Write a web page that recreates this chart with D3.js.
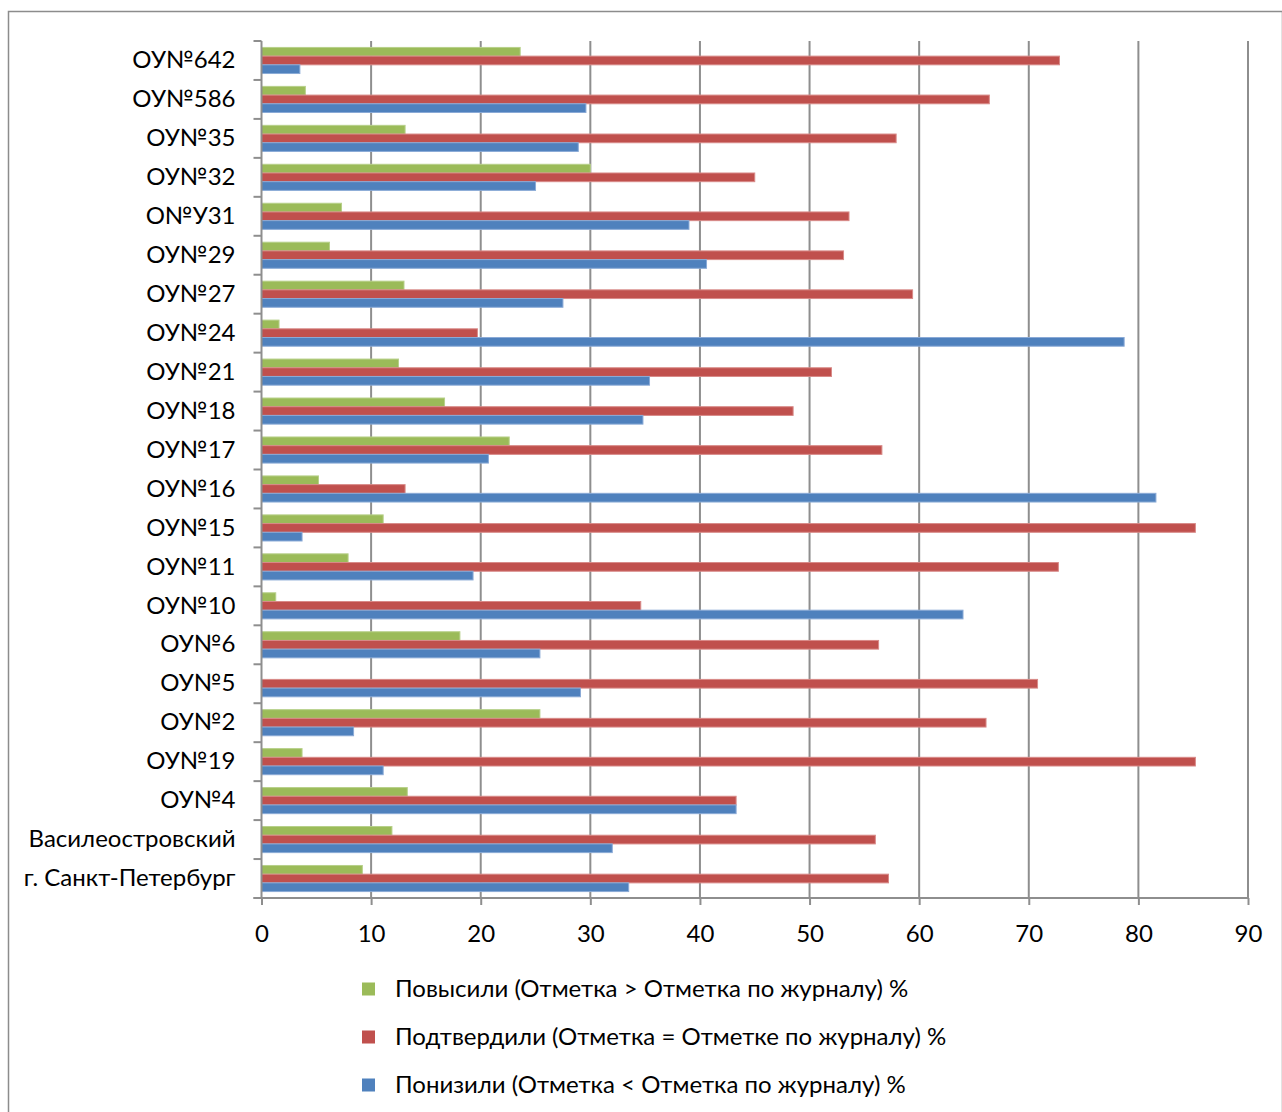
<!DOCTYPE html>
<html><head><meta charset="utf-8">
<script src="https://cdn.jsdelivr.net/npm/d3@7"></script>
<style>body{margin:0;background:#fff;} svg{display:block;}</style>
</head><body>
<script>
const categories = ["ОУ№642","ОУ№586","ОУ№35","ОУ№32","О№У31","ОУ№29","ОУ№27","ОУ№24","ОУ№21","ОУ№18","ОУ№17","ОУ№16","ОУ№15","ОУ№11","ОУ№10","ОУ№6","ОУ№5","ОУ№2","ОУ№19","ОУ№4","Василеостровский","г. Санкт-Петербург"];
const raised    = [23.6, 4.0, 13.1, 30.0, 7.3, 6.2, 13.0, 1.6, 12.5, 16.7, 22.6, 5.2, 11.1, 7.9, 1.3, 18.1, 0, 25.4, 3.7, 13.3, 11.9, 9.2];
const confirmed = [72.8, 66.4, 57.9, 45.0, 53.6, 53.1, 59.4, 19.7, 52.0, 48.5, 56.6, 13.1, 85.2, 72.7, 34.6, 56.3, 70.8, 66.1, 85.2, 43.3, 56.0, 57.2];
const lowered   = [3.5, 29.6, 28.9, 25.0, 39.0, 40.6, 27.5, 78.7, 35.4, 34.8, 20.7, 81.6, 3.7, 19.3, 64.0, 25.4, 29.1, 8.4, 11.1, 43.3, 32.0, 33.5];
const seriesNames = ["Повысили (Отметка > Отметка по журналу) %","Подтвердили (Отметка = Отметке по журналу) %","Понизили (Отметка < Отметка по журналу) %"];
const seriesColors = ["#9BBB59","#C0504D","#4F81BD"];
const seriesStroke = ["#B7D08A","#D88A88","#8AAAD6"];
const xTicks = [0,10,20,30,40,50,60,70,80,90];

const W=1282,H=1112;
const svg=d3.select("body").append("svg").attr("width",W).attr("height",H);
svg.append("rect").attr("x",8.5).attr("y",11.5).attr("width",W-8).attr("height",H).attr("fill","#fff").attr("stroke","#8c8c8c").attr("stroke-width",1.5);

const pL=261.5,pR=1248,pT=41,pB=898;
const x=d3.scaleLinear().domain([0,90]).range([pL,pR]);
const y=d3.scaleBand().domain(categories).range([pT,pB]).paddingInner(0.33).paddingOuter(0.165);
const ySub=d3.scaleBand().domain([0,1,2]).range([0,y.bandwidth()]);
const font="Lato, 'Open Sans', sans-serif";
const fs=24;

// gridlines
svg.append("g").selectAll("line").data(xTicks.slice(1)).join("line")
  .attr("x1",d=>x(d)).attr("x2",d=>x(d)).attr("y1",pT).attr("y2",pB)
  .attr("stroke","#8e8e8e").attr("stroke-width",2);

const data=[raised,confirmed,lowered];
const g=svg.append("g");
data.forEach((arr,si)=>{
  g.append("g").selectAll("rect").data(arr).join("rect")
   .attr("x",x(0)).attr("y",(d,i)=>y(categories[i])+ySub(si))
   .attr("width",d=>Math.max(0,x(d)-x(0))).attr("height",ySub.bandwidth())
   .attr("fill",seriesColors[si]).attr("stroke",d=>d>0?seriesStroke[si]:"none").attr("stroke-width",1);
});

// axes
const xAxis=d3.axisBottom(x).tickValues(xTicks).tickSize(7).tickPadding(20);
const ax=svg.append("g").attr("transform",`translate(0,${pB})`).call(xAxis);
ax.select(".domain").attr("stroke","#8e8e8e").attr("stroke-width",2).attr("d",`M${pL-8},0H${pR}`);
ax.selectAll(".tick line").attr("stroke","#8e8e8e").attr("stroke-width",2);
ax.selectAll("text").attr("font-family",font).attr("font-size",fs).attr("fill","#000");

const yAxis=d3.axisLeft(y).tickSize(0).tickPadding(26);
const ay=svg.append("g").attr("transform",`translate(${pL},0)`).call(yAxis);
ay.select(".domain").attr("stroke","#8e8e8e").attr("stroke-width",2).attr("d",`M0,${pT}V${pB}`);
ay.selectAll("text").attr("font-family",font).attr("font-size",fs).attr("fill","#000");
// category boundary ticks
const bounds=d3.range(categories.length+1).map(i=>pT+i*(pB-pT)/categories.length);
svg.append("g").selectAll("line").data(bounds).join("line")
  .attr("x1",pL-8).attr("x2",pL).attr("y1",d=>d).attr("y2",d=>d)
  .attr("stroke","#8e8e8e").attr("stroke-width",2);

// legend
const lg=svg.append("g");
seriesNames.forEach((n,i)=>{
  const yy=989+i*48;
  lg.append("rect").attr("x",362).attr("y",yy-6.5).attr("width",13).attr("height",13).attr("fill",seriesColors[i]);
  lg.append("text").attr("x",395).attr("y",yy).attr("dy","0.35em").attr("font-family",font).attr("font-size",fs).text(n);
});
</script>
</body></html>
